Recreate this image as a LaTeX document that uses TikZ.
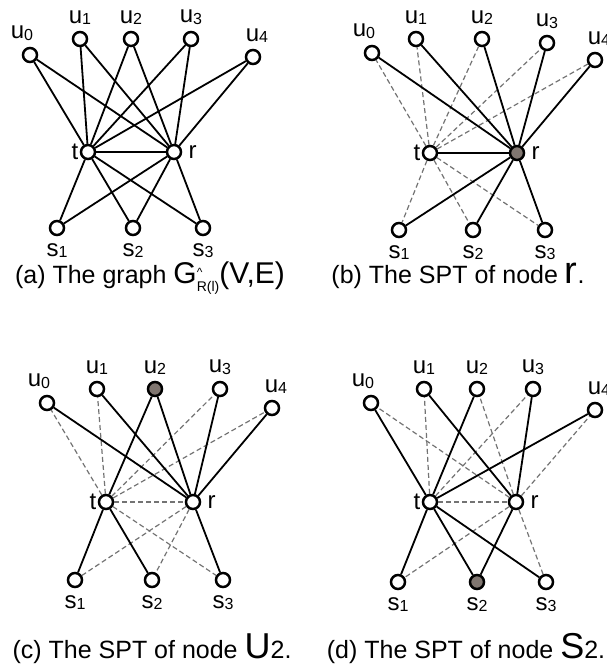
\documentclass[tikz,border=0pt]{standalone}
\usepackage{fontspec}
\setmainfont{Liberation Sans}
\usetikzlibrary{positioning}
\definecolor{riemp}{RGB}{128,118,112}
\definecolor{tratteggio}{RGB}{115,115,115}
\newcommand{\pedice}[2]{#1\raisebox{-0.1ex}{\fontsize{8}{8}\selectfont #2}}
\tikzset{
  vert/.style   = {circle, draw, line width=1.25pt, fill=white, minimum size=7pt, inner sep=0},
  radice/.style = {vert, fill=riemp},
  link/.style   = {line width=0.9pt},
  tratt/.style  = {line width=0.6pt, draw=tratteggio, dash pattern=on 2.5pt off 1.5pt},
  et/.style     = {font=\fontsize{12}{12}\selectfont, inner sep=0},
  didasc/.style = {font=\fontsize{12.5}{14}\selectfont, inner sep=0, anchor=base}
}

\begin{document}
\begin{tikzpicture}[x=0.5pt,y=-0.5pt]
  \useasboundingbox (0,0) rectangle (606,672);
  % (a) il grafo
  \node[vert] (a-u0) at (30,55){};   \node[vert] (a-u1) at (80,39){};   \node[vert] (a-u2) at (131,39){};
  \node[vert] (a-u3) at (191,39){};  \node[vert] (a-u4) at (253,57){};
  \node[vert] (a-t) at (88,152){};   \node[vert] (a-r) at (174,152){};
  \node[vert] (a-s1) at (57,228){};  \node[vert] (a-s2) at (133,228){}; \node[vert] (a-s3) at (203,228){};
  % (b) SPT di r
  \node[vert] (b-u0) at (372,53){};  \node[vert] (b-u1) at (416,39){};  \node[vert] (b-u2) at (482,39){};
  \node[vert] (b-u3) at (547,43){};  \node[vert] (b-u4) at (595,60){};
  \node[vert] (b-t) at (430,153){};  \node[radice] (b-r) at (517,153){};
  \node[vert] (b-s1) at (399,230){}; \node[vert] (b-s2) at (473,230){}; \node[vert] (b-s3) at (545,230){};
  % (c) SPT di u2
  \node[vert] (c-u0) at (47,403){};  \node[vert] (c-u1) at (97,389){};  \node[radice] (c-u2) at (155,389){};
  \node[vert] (c-u3) at (220,389){}; \node[vert] (c-u4) at (272,408){};
  \node[vert] (c-t) at (106,502){};  \node[vert] (c-r) at (193,502){};
  \node[vert] (c-s1) at (75,580){};  \node[vert] (c-s2) at (152,580){}; \node[vert] (c-s3) at (223,580){};
  % (d) SPT di s2
  \node[vert] (d-u0) at (371,403){}; \node[vert] (d-u1) at (424,389){}; \node[vert] (d-u2) at (477,389){};
  \node[vert] (d-u3) at (533,389){}; \node[vert] (d-u4) at (595,410){};
  \node[vert] (d-t) at (430,502){};  \node[vert] (d-r) at (516,502){};
  \node[vert] (d-s1) at (398,582){}; \node[radice] (d-s2) at (477,582){}; \node[vert] (d-s3) at (546,582){};

  % etichette
  \foreach \p in {a,b,c,d}{
    \node[et, above=3pt of \p-u0, xshift=-4pt] (\p-lu0) {\pedice{u}{0}};
    \foreach \i in {1,2,3} \node[et, above=3pt of \p-u\i] (\p-lu\i) {\pedice{u}{\i}};
    \node[et, above=3pt of \p-u4, xshift=2pt] (\p-lu4) {\pedice{u}{4}};
    \node[et, left=0.5pt of \p-t] (\p-lt) {t};
    \node[et, right=3pt of \p-r] (\p-lr) {r};
    \foreach \i in {1,2,3} \node[et, below=3.5pt of \p-s\i] (\p-ls\i) {\pedice{s}{\i}};
  }

  % archi
  \foreach \v in {u0,u1,u2,u3,u4,s1,s2,s3} \draw[link] (a-t) -- (a-\v) (a-r) -- (a-\v);
  \draw[link] (a-t) -- (a-r);

  \foreach \v in {u0,u1,u2,u3,u4,s1,s2,s3} \draw[tratt] (b-t) -- (b-\v);
  \foreach \v in {u0,u1,u2,u3,u4,s1,s2,s3} \draw[link] (b-r) -- (b-\v);
  \draw[link] (b-t) -- (b-r);

  \foreach \v in {u0,u1,u3,u4,s3} \draw[tratt] (c-t) -- (c-\v);
  \foreach \v in {s1,s2} \draw[tratt] (c-r) -- (c-\v);
  \draw[tratt] (c-t) -- (c-r);
  \foreach \v in {u0,u1,u3,u4,s3} \draw[link] (c-r) -- (c-\v);
  \foreach \v in {s1,s2} \draw[link] (c-t) -- (c-\v);
  \draw[link] (c-t) -- (c-u2) -- (c-r);

  \foreach \v in {u0,u2,u4,s1,s3} \draw[tratt] (d-r) -- (d-\v);
  \foreach \v in {u1,u3} \draw[tratt] (d-t) -- (d-\v);
  \draw[tratt] (d-t) -- (d-r);
  \foreach \v in {u0,u2,u4,s1,s3} \draw[link] (d-t) -- (d-\v);
  \foreach \v in {u1,u3} \draw[link] (d-r) -- (d-\v);
  \draw[link] (d-t) -- (d-s2) -- (d-r);

  % didascalie
  \node[didasc] (cap-a) at (150,284) {(a) The graph {\fontsize{15}{15}\selectfont G}\rlap{\raisebox{0.6ex}{\fontsize{6}{6}\selectfont\textasciicircum}}\raisebox{-0.6ex}{\fontsize{7}{7}\selectfont R(l)}{\fontsize{15}{15}\selectfont (V,E)}};
  \node[didasc] (cap-b) at (458,284) {(b) The SPT of node {\fontsize{19}{19}\selectfont r}.};
  \node[didasc] (cap-c) at (152,658) {(c) The SPT of node {\fontsize{18}{18}\selectfont U}2.};
  \node[didasc] (cap-d) at (466,658) {(d) The SPT of node {\fontsize{18}{18}\selectfont S}2.};
\end{tikzpicture}
\end{document}
